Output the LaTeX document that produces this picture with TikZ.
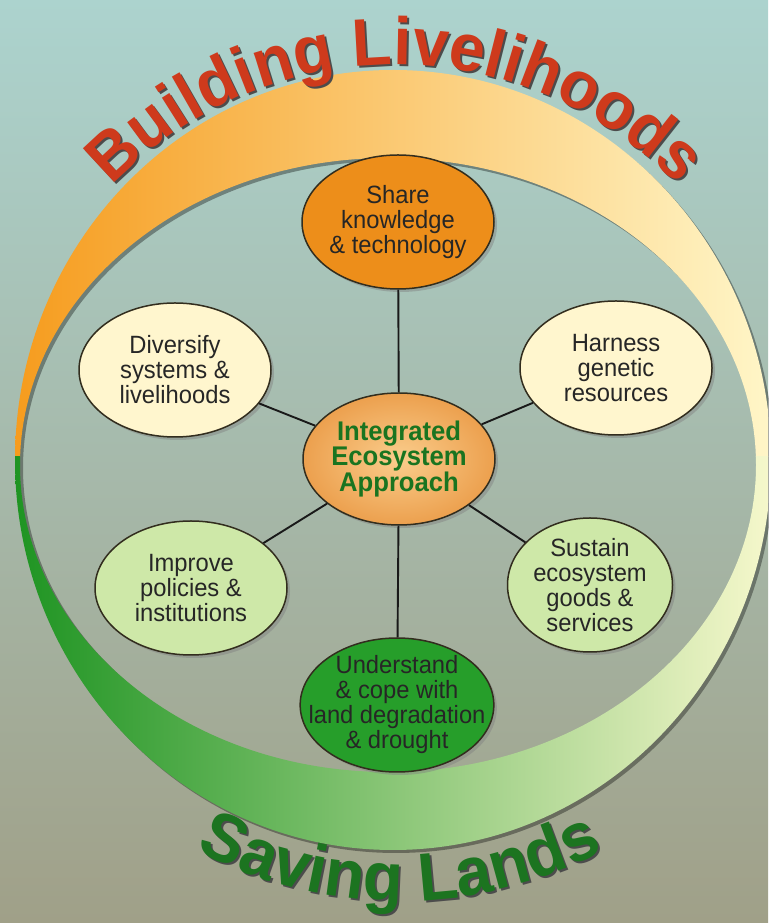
\documentclass[tikz,border=0pt]{standalone}
\usepackage{fontspec}
\newfontfamily\goalfont[FakeStretch=0.95]{Liberation Sans}
\newfontfamily\bannerfont[FakeStretch=0.96]{Liberation Sans}
\usetikzlibrary{shapes.geometric, decorations.text, shadows}

\definecolor{bgtop}{RGB}{172,211,206}
\definecolor{bgmid}{RGB}{158,186,176}
\definecolor{bgbot}{RGB}{160,160,136}
\definecolor{ringorange}{RGB}{246,156,30}
\definecolor{ringpeach}{RGB}{251,200,105}
\definecolor{ringcream}{RGB}{255,246,200}
\definecolor{ringgreen}{RGB}{30,148,34}
\definecolor{ringlime}{RGB}{125,198,92}
\definecolor{ringpale}{RGB}{246,248,204}
\definecolor{titlered}{RGB}{206,58,28}
\definecolor{titlegreen}{RGB}{28,116,32}
\definecolor{shareorange}{RGB}{237,142,26}
\definecolor{cream}{RGB}{255,246,206}
\definecolor{palegreen}{RGB}{206,232,168}
\definecolor{deepgreen}{RGB}{38,158,42}
\definecolor{hubinner}{RGB}{250,205,140}
\definecolor{hubouter}{RGB}{236,160,78}
\definecolor{hubtext}{RGB}{26,116,32}
\definecolor{edge}{RGB}{50,45,30}

\tikzstyle{base} = [ellipse, draw=edge, line width=1.5pt, align=center, inner xsep=-20pt, inner ysep=-15pt, text=black!85, drop shadow={shadow xshift=3pt, shadow yshift=-3pt, opacity=0.45}]
\tikzstyle{goal} = [base, minimum width=192pt, minimum height=134pt, font=\goalfont\fontsize{25}{25}\selectfont]
\tikzstyle{hub} = [base, minimum width=192pt, minimum height=132pt, inner color=hubinner, outer color=hubouter, text=hubtext, font=\goalfont\bfseries\fontsize{27}{25}\selectfont]
\tikzstyle{connector} = [draw, line width=1.9pt, black!90]

\begin{document}
\begin{tikzpicture}[x=1pt, y=1pt]
	\useasboundingbox (0,0) rectangle (768,923);
	\shade [top color=bgtop, middle color=bgmid, bottom color=bgbot] (0,0) rectangle (768,923);
	
	% ring
	\fill [black, opacity=0.35, even odd rule] (396,460) ellipse [x radius=378, y radius=390] (391,455) ellipse [x radius=368, y radius=307];
	\begin{scope}
		\clip (0,466) rectangle (768,923);
		\shade [left color=ringorange, middle color=ringpeach, right color=ringcream, even odd rule] (393,463) ellipse [x radius=378, y radius=390] (388,458) ellipse [x radius=368, y radius=307];
	\end{scope}
	\begin{scope}
		\clip (0,0) rectangle (768,466);
		\shade [left color=ringgreen, middle color=ringlime, right color=ringpale, even odd rule] (393,463) ellipse [x radius=378, y radius=390] (388,458) ellipse [x radius=368, y radius=307];
	\end{scope}
	
	% titles
	\coordinate (top arc) at (395,466);
	\coordinate (low arc) at (400,458);
	\path [decorate, decoration={text along path, text align=center, text={|\bannerfont\bfseries\fontsize{67}{67}\selectfont\color{black!70}|Building Livelihoods}}] ([shift={(160:392)}, xshift=2pt, yshift=-2pt]top arc) arc [start angle=160, end angle=20, radius=392];
	\path [decorate, decoration={text along path, text align=center, text={|\bannerfont\bfseries\fontsize{67}{67}\selectfont\color{titlered}|Building Livelihoods}}] ([shift={(160:392)}]top arc) arc [start angle=160, end angle=20, radius=392];
	\path [decorate, decoration={text along path, text align=center, text={|\bannerfont\bfseries\fontsize{68}{68}\selectfont\color{black!70}|Saving Lands}}] ([shift={(200:436)}, xshift=2pt, yshift=-2pt]low arc) arc [start angle=200, end angle=340, radius=436];
	\path [decorate, decoration={text along path, text align=center, text={|\bannerfont\bfseries\fontsize{68}{68}\selectfont\color{titlegreen}|Saving Lands}}] ([shift={(200:436)}]low arc) arc [start angle=200, end angle=340, radius=436];
	
	% goals
	\node [goal, fill=shareorange] at (398,701) (share) {Share\\knowledge\\\& technology};
	\node [goal, fill=cream] at (175,553) (diversify) {Diversify\\systems \&\\livelihoods};
	\node [goal, fill=cream] at (616,555) (harness) {Harness\\genetic\\resources};
	\node [hub] at (399,464) (approach) {Integrated\\Ecosystem\\Approach};
	\node [goal, fill=palegreen] at (191,335) (improve) {Improve\\policies \&\\institutions};
	\node [goal, fill=palegreen, minimum width=165pt] at (590,338) (sustain) {Sustain\\ecosystem\\goods \&\\services};
	\node [goal, fill=deepgreen] at (397,218) (understand) {Understand\\\& cope with\\land degradation\\\& drought};
	
	\path [connector] (approach) -- (share);
	\path [connector] (approach) -- (diversify);
	\path [connector] (approach) -- (harness);
	\path [connector] (approach) -- (improve);
	\path [connector] (approach) -- (sustain);
	\path [connector] (approach) -- (understand);
	
\end{tikzpicture}
\end{document}
